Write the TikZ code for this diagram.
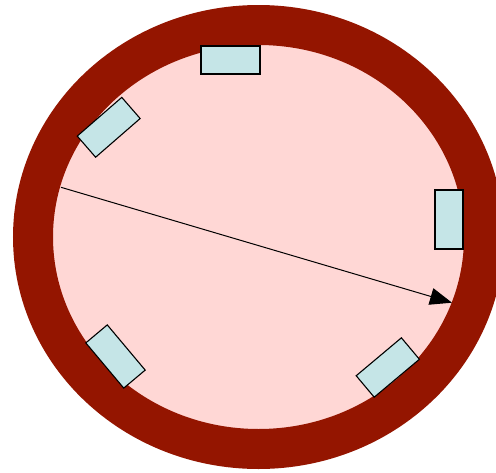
\documentclass[tikz,border=0pt]{standalone}
\usepackage{tikz}
\usetikzlibrary{arrows.meta, positioning}
\definecolor{ringred}{RGB}{148,21,0}
\definecolor{innerpink}{RGB}{255,215,213}
\definecolor{sensorcyan}{RGB}{197,229,231}
\tikzset{
    ring/.style = {draw=ringred, line width=40pt, fill=innerpink},
    sensor/.style = {rectangle, draw, fill=sensorcyan, line width=1.1pt, minimum width=59pt, minimum height=28pt, inner sep=0pt},
    line/.style = {draw, -{Triangle[length=22pt, width=17pt]}, line width=1pt}
}
\begin{document}
\begin{tikzpicture}[x=1pt, y=-1pt]
        \useasboundingbox (0,0) rectangle (496,472);
        % Ring
        \path [ring] (258.5,237) ellipse [x radius=225.5, y radius=212];
        
        % Nodes
        \node [sensor] (top) at (230.5,60) {};
        \node [sensor, rotate=90] (right) at (449,219.5) {};
        \node [sensor, rotate=41] (upperleft) at (108.7,127.3) {};
        \node [sensor, rotate=-50] (lowerleft) at (115.5,356.5) {};
        \node [sensor, rotate=40] (lowerright) at (387.8,367.5) {};
        
        % Edges
        \coordinate (start) at (61,187.3);
        \coordinate (end) at (452,302.7);
        \path [line] (start) -- (end);
    \end{tikzpicture}
\end{document}
